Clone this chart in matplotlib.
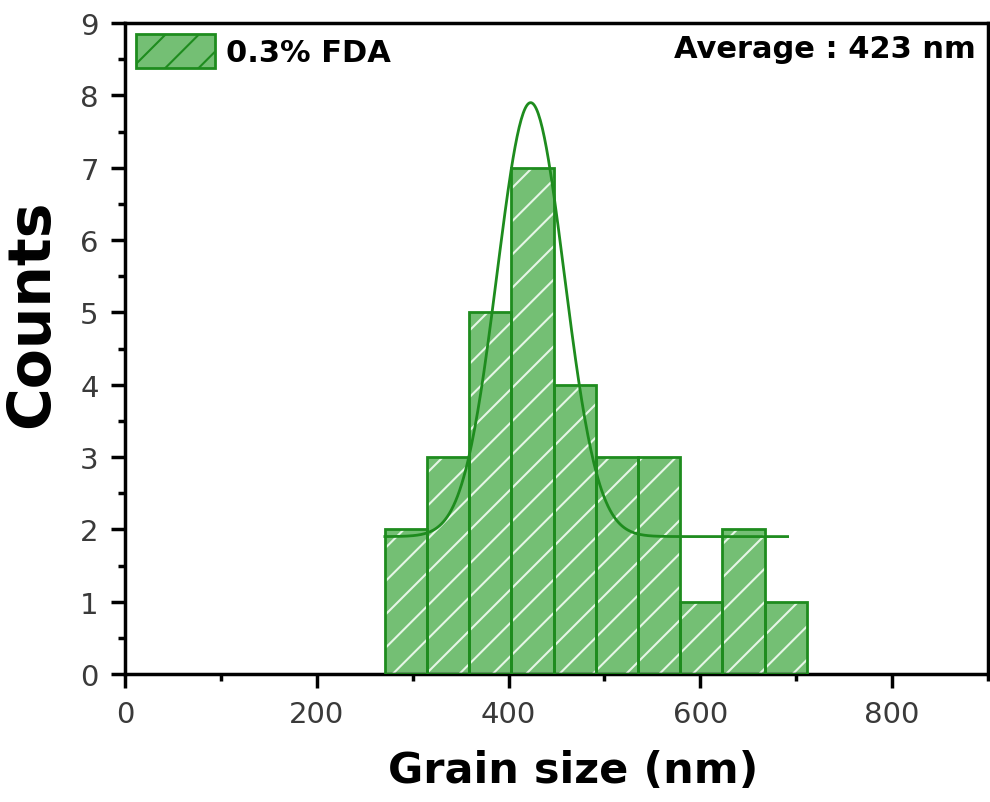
import numpy as np
import matplotlib.pyplot as plt
from matplotlib.patches import Patch
from matplotlib.ticker import MultipleLocator

# grain size histogram (0.3% FDA)
bin_left = [271, 315, 359, 403, 447, 491, 535, 579, 623, 667]
bin_width = 44
counts = [2, 3, 5, 7, 4, 3, 3, 1, 2, 1]

# gaussian fit: y0 + A*exp(-(x-xc)^2 / (2 w^2))
fit_y0 = 1.9
fit_amp = 6.0
fit_xc = 423
fit_w = 35
fit_range = (271, 691)

fill_c = '#74bf74'
edge_c = '#1e8c1e'
hatch_c = '#e6f6e6'

plt.rcParams['hatch.linewidth'] = 1.5
plt.rcParams['font.family'] = ['DejaVu Sans']

fig = plt.figure(figsize=(9.9, 8.03), dpi=100)
ax = fig.add_axes([0.1263, 0.1594, 0.8717, 0.8106])

# fill + hatch first, then outline on top
ax.bar(bin_left, counts, width=bin_width, align='edge', color=fill_c,
       edgecolor=hatch_c, hatch='/', linewidth=0, zorder=2)
ax.bar(bin_left, counts, width=bin_width, align='edge', facecolor='none',
       edgecolor=edge_c, linewidth=2, zorder=3)

xs = np.linspace(fit_range[0], fit_range[1], 400)
ys = fit_y0 + fit_amp * np.exp(-(xs - fit_xc) ** 2 / (2 * fit_w ** 2))
ax.plot(xs, ys, color=edge_c, lw=2, zorder=4)

ax.set_xlim(0, 900)
ax.set_ylim(0, 9)
ax.xaxis.set_major_locator(MultipleLocator(200))
ax.xaxis.set_minor_locator(MultipleLocator(100))
ax.yaxis.set_major_locator(MultipleLocator(1))
ax.yaxis.set_minor_locator(MultipleLocator(0.5))
ax.tick_params(which='major', direction='out', length=10, width=2.5,
               labelsize=21, labelcolor='#3a3a3a')
ax.tick_params(axis='x', which='major', pad=9)
ax.tick_params(axis='y', which='major', pad=9)
ax.tick_params(which='minor', direction='out', length=5, width=2.5)
ax.tick_params(top=False, right=False)
for s in ax.spines.values():
    s.set_linewidth(2.5)

ax.set_xlabel('Grain size (nm)', fontsize=31, fontweight='bold')
ax.set_ylabel('Counts', fontsize=42, fontweight='bold')
ax.xaxis.set_label_coords(0.519, -0.115)
ax.yaxis.set_label_coords(-0.075, 0.555)

ax.legend(handles=[Patch(facecolor=fill_c, edgecolor=edge_c, hatch='/',
                         linewidth=2, label='0.3% FDA')],
          loc='upper left', frameon=False,
          prop={'weight': 'bold', 'size': 22},
          handlelength=2.6, handleheight=1.35,
          borderaxespad=0.1, borderpad=0.25, handletextpad=0.35)

ax.text(0.986, 0.9615, 'Average : 423 nm', transform=ax.transAxes,
        ha='right', va='center', fontsize=22, fontweight='bold')

fig.savefig('out.png', dpi=100)
